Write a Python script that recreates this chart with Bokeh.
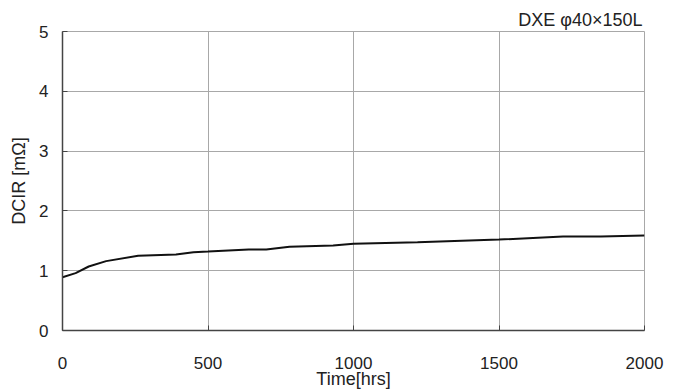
from bokeh.plotting import figure
from bokeh.models import Range1d, FixedTicker, ColumnDataSource
from bokeh.embed import file_html
from bokeh.resources import INLINE

time_hrs = [0, 45, 90, 150, 260, 390, 450, 500, 640, 700, 780, 930, 1000, 1220, 1500, 1720, 1850, 2000]
dcir = [0.89, 0.96, 1.07, 1.16, 1.25, 1.27, 1.31, 1.32, 1.355, 1.355, 1.40, 1.42, 1.45, 1.475, 1.52, 1.57, 1.57, 1.59]
x_ticks = [0, 500, 1000, 1500, 2000]
y_ticks = [0, 1, 2, 3, 4, 5]
title_text = "DXE \u03c640\u00d7150L"
x_title = "Time[hrs]"
y_title = "DCIR [m\u03a9]"

FONT = "Liberation Sans"
TXT = "#222222"

p = figure(width=681, height=391, output_backend="svg", toolbar_location=None,
           x_range=Range1d(0, 2000), y_range=Range1d(0, 5),
           min_border_left=62, min_border_right=37, min_border_top=31, min_border_bottom=61)

p.title.text = title_text
p.title.align = "right"
p.title.text_font = FONT
p.title.text_font_size = "18px"
p.title.text_font_style = "normal"
p.title.text_color = TXT
p.title.offset = 2
p.title.standoff = 4

src = ColumnDataSource(dict(t=time_hrs, v=dcir))
p.line("t", "v", source=src, line_color="#111111", line_width=2)

p.xaxis.ticker = FixedTicker(ticks=x_ticks)
p.yaxis.ticker = FixedTicker(ticks=y_ticks)
p.xaxis.axis_label = x_title
p.yaxis.axis_label = y_title

for ax in (p.xaxis, p.yaxis):
    ax.axis_line_color = "#444444"
    ax.axis_line_width = 1.5
    ax.major_tick_line_color = "#444444"
    ax.major_tick_in = 5
    ax.major_tick_out = 0
    ax.minor_tick_line_color = None
    ax.major_label_text_font = FONT
    ax.major_label_text_font_size = "17px"
    ax.major_label_text_color = TXT
    ax.axis_label_text_font = FONT
    ax.axis_label_text_font_size = "18px"
    ax.axis_label_text_font_style = "normal"
    ax.axis_label_text_color = TXT

p.xaxis.major_label_standoff = 26
p.xaxis.axis_label_standoff = -3
p.yaxis.major_label_standoff = 14
p.yaxis.axis_label_standoff = 7

p.grid.grid_line_color = "#a8a8a8"
p.grid.grid_line_width = 1
p.outline_line_color = "#a8a8a8"
p.outline_line_width = 1

open("out.html", "w").write(file_html(p, INLINE))
